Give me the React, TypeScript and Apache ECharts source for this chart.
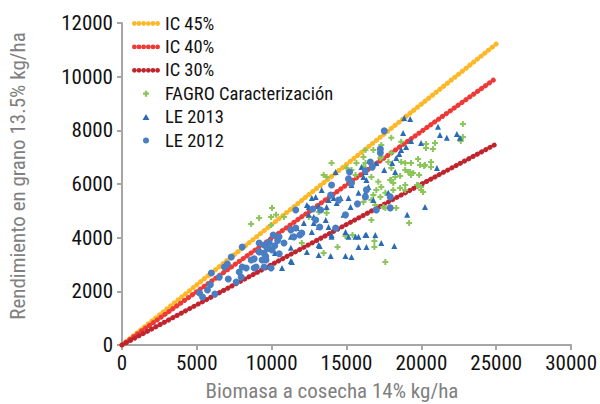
import React, { useEffect, useRef } from "react";
import * as echarts from "echarts";

const xTicks = [0, 5000, 10000, 15000, 20000, 25000, 30000];
const yTicks = [0, 2000, 4000, 6000, 8000, 10000, 12000];

const lineX = [0, 25000];
const ic45Y = [0, 11220];
const ic40Y = [0, 9950];
const ic30Y = [0, 7490];

const le2012: number[][] = [
  [17520, 7980], [17260, 7300], [17260, 7160], [16590, 6820], [16720, 6630], [16260, 6490],
  [15200, 6450], [15130, 6190], [15330, 6040], [16330, 5780], [16260, 5520], [15730, 5260],
  [16990, 5030], [17920, 5520], [17920, 5110], [14000, 5960], [13940, 5590], [14470, 5400],
  [12740, 5070], [13270, 5030], [12940, 4660], [13210, 4400], [11610, 5030], [11280, 4290],
  [11880, 4100], [10820, 3800], [10490, 4030], [9820, 3800], [9690, 3620], [9490, 3430],
  [9160, 3470], [9360, 3170], [8830, 3210], [8960, 2910], [9490, 2910], [9960, 2870],
  [14270, 4360], [14930, 4850], [7300, 3280], [7040, 3020], [6840, 2910], [5970, 2680],
  [6500, 2530], [7100, 2460], [7630, 2350], [7830, 2720], [8030, 2910], [8630, 3170],
  [8830, 2870], [8300, 2870], [9620, 3170], [9490, 3730], [9160, 3800], [9820, 3840],
  [10020, 3540], [11610, 4360], [12010, 4170], [11480, 4030], [5710, 2050], [5180, 1940],
  [5380, 1790], [8030, 3650], [7960, 2530], [10200, 3700], [10400, 3900], [9800, 3600],
  [10100, 4100], [10500, 3400], [9600, 3300], [6200, 1900], [5900, 2250]
];

const le2013: number[][] = [
  [18850, 8460], [19250, 8420], [21110, 8130], [21240, 7830], [21700, 7720], [22370, 7860],
  [22570, 7720], [19980, 7530], [19310, 7600], [18980, 7380], [18780, 7900], [18650, 7270],
  [18520, 7120], [18320, 6970], [17520, 6520], [18250, 6450], [18050, 6780], [16990, 6780],
  [16000, 6630], [16260, 6450], [16130, 6260], [16330, 6150], [14270, 6450], [15330, 5960],
  [16460, 5890], [15800, 5670], [15130, 5480], [14600, 5480], [14340, 5290], [13800, 5400],
  [12940, 5520], [13340, 5780], [13670, 5140], [13140, 5180], [12480, 5140], [20240, 5140],
  [21040, 6600], [19050, 4850], [15130, 4030], [16260, 4100], [16920, 4100], [15800, 3650],
  [16330, 3650], [17320, 3800], [18190, 3690], [14930, 3320], [15330, 3280], [13140, 3350],
  [12350, 3470], [11280, 3620], [11350, 3090], [10690, 2870], [13140, 3730], [14000, 4100],
  [12680, 4210], [11680, 4360], [12810, 4770], [12480, 4850], [12680, 5480], [12350, 5220],
  [14140, 5480], [15270, 5140], [14800, 4850], [13610, 4660], [12810, 4550], [12150, 4550],
  [13140, 4400], [13800, 4400], [14340, 4360], [14930, 4210], [15600, 4030], [14000, 4030],
  [11280, 4030], [13940, 3320], [13210, 3690], [16330, 4100], [15800, 4030], [16260, 5670],
  [17790, 5670], [16790, 5400], [10220, 3430], [11280, 3130]
];

const fagro: number[][] = [
  [22770, 8240], [22770, 7750], [22630, 7600], [20910, 7530], [20310, 7490], [20310, 7340],
  [20770, 7300], [17990, 7720], [17320, 7450], [18650, 7570], [17790, 6820], [18920, 6780],
  [19310, 6780], [19780, 6930], [19910, 6710], [20240, 6710], [20640, 6820], [18920, 6520],
  [18250, 6260], [17990, 6150], [19250, 6450], [19310, 6340], [18920, 5960], [18580, 5850],
  [18920, 5780], [19980, 5890], [19980, 5780], [19710, 5960], [19180, 4550], [17590, 3090],
  [18320, 5110], [17590, 5670], [17320, 5890], [17120, 6080], [16990, 5780], [16790, 5590],
  [17260, 5520], [16660, 5400], [16920, 5220], [17460, 5140], [16130, 7010], [17320, 7010],
  [16260, 6780], [15660, 6780], [15330, 6520], [15600, 6340], [15000, 6600], [14000, 6780],
  [13470, 6340], [13670, 6260], [15400, 4100], [14930, 4060], [14400, 3650], [16860, 3650],
  [13470, 3430], [10020, 5110], [9160, 4730], [8630, 4510], [9960, 4770], [10290, 4850],
  [10820, 4770], [12480, 4770], [13140, 4960], [13670, 4920], [12010, 3800], [16260, 7270],
  [16790, 7270], [17990, 7160], [17260, 6970], [16590, 6820], [18650, 6820], [16130, 6630],
  [17990, 6600], [19120, 6450], [19450, 6410], [18580, 6300], [17920, 6150], [16660, 6260],
  [18120, 6040], [16130, 5330], [17590, 5110], [16660, 4660], [16860, 3880], [18120, 5780],
  [20180, 6670], [20640, 6630], [19850, 6340], [20110, 5700], [19780, 5960], [9960, 4470]
];

const FONT = "'Roboto Condensed', 'Liberation Sans Narrow', 'DejaVu Sans Condensed', 'Liberation Sans', sans-serif";
const PLUS = "path://M2,0H4V2H6V4H4V6H2V4H0V2H2Z";

// six small beads in a row, used as the legend icon of the dotted lines
const circ = (cx: number) => `M${cx - 2.3},2.5a2.3,2.3 0 1,0 4.6,0a2.3,2.3 0 1,0 -4.6,0Z`;
const BEADS = "path://" + [2.5, 7, 11.5, 16, 20.5, 25].map(circ).join(" ");
const LEG_TRI = "path://M13,0L16,5.2H10Z";
const LEG_PLUS = "path://M13,0H15V1.6H16.6V3.6H15V5.2H13V3.6H11.4V1.6H13Z";
const LEG_DOT = "path://M11.6,2.6a2.4,2.4 0 1,0 4.8,0a2.4,2.4 0 1,0 -4.8,0Z";

const toPairs = (xs: number[], ys: number[]) => xs.map((x, i) => [x, ys[i]]);

export default function App() {
  const ref = useRef<HTMLDivElement>(null);
  useEffect(() => {
    if (!ref.current) return;
    const chart = echarts.init(ref.current, null, { renderer: "svg" });
    const dotLine = (name: string, ys: number[], color: string) => ({
      name,
      type: "line",
      data: toPairs(lineX, ys),
      symbol: "none",
      itemStyle: { color },
      lineStyle: { color, width: 5, type: [0.1, 4.7], cap: "round" },
      z: 2,
    });
    chart.setOption({
      animation: false,
      backgroundColor: "#ffffff",
      grid: { left: 122, right: 26, top: 23, bottom: 59, containLabel: false },
      legend: {
        orient: "vertical",
        left: 127,
        top: 9,
        itemWidth: 28,
        itemHeight: 6,
        itemGap: 4.4,
        symbolKeepAspect: true,
        textStyle: { fontFamily: FONT, fontSize: 18.5, color: "#111" },
        data: [
          { name: "IC 45%", icon: BEADS },
          { name: "IC 40%", icon: BEADS },
          { name: "IC 30%", icon: BEADS },
          { name: "FAGRO Caracterización", icon: LEG_PLUS },
          { name: "LE 2013", icon: LEG_TRI },
          { name: "LE 2012", icon: LEG_DOT },
        ],
      },
      xAxis: {
        type: "value",
        min: xTicks[0],
        max: xTicks[xTicks.length - 1],
        interval: xTicks[1] - xTicks[0],
        axisLine: { show: true, lineStyle: { color: "#A6A6A6", width: 2 } },
        axisTick: { show: true, length: 5, lineStyle: { color: "#A6A6A6", width: 2 } },
        splitLine: { show: false },
        axisLabel: {
          fontFamily: FONT,
          fontSize: 21,
          color: "#111",
          margin: 7,
          formatter: (v: number) => String(v),
        },
      },
      yAxis: {
        type: "value",
        min: yTicks[0],
        max: yTicks[yTicks.length - 1],
        interval: yTicks[1] - yTicks[0],
        axisLine: { show: true, lineStyle: { color: "#A6A6A6", width: 2 } },
        axisTick: { show: true, length: 5, lineStyle: { color: "#A6A6A6", width: 2 } },
        splitLine: { show: false },
        axisLabel: {
          fontFamily: FONT,
          fontSize: 21,
          color: "#111",
          margin: 9,
          formatter: (v: number) => String(v),
        },
      },
      graphic: [
        {
          type: "text",
          x: 332,
          y: 391,
          style: {
            text: "Biomasa a cosecha 14% kg/ha",
            fontFamily: FONT,
            fontSize: 21,
            fill: "#808080",
            textAlign: "center",
            textVerticalAlign: "middle",
          },
        },
        {
          type: "text",
          x: 18,
          y: 176,
          rotation: Math.PI / 2,
          style: {
            text: "Rendimiento en grano 13.5% kg/ha",
            fontFamily: FONT,
            fontSize: 21,
            fill: "#808080",
            textAlign: "center",
            textVerticalAlign: "middle",
          },
        },
      ],
      series: [
        dotLine("IC 45%", ic45Y, "#FDB827"),
        dotLine("IC 40%", ic40Y, "#EE3A36"),
        dotLine("IC 30%", ic30Y, "#C0242C"),
        {
          name: "FAGRO Caracterización",
          type: "scatter",
          data: fagro,
          symbol: PLUS,
          symbolSize: 6,
          itemStyle: { color: "#8CC55A", opacity: 1 },
          z: 3,
        },
        {
          name: "LE 2013",
          type: "scatter",
          data: le2013,
          symbol: "triangle",
          symbolSize: 6,
          itemStyle: { color: "#2A6BB5", opacity: 1 },
          z: 3,
        },
        {
          name: "LE 2012",
          type: "scatter",
          data: le2012,
          symbol: "circle",
          symbolSize: 7,
          itemStyle: { color: "#4A7EC3", opacity: 1 },
          z: 3,
        },
      ],
    });
    return () => chart.dispose();
  }, []);
  return (
    <div
      ref={ref}
      style={{ position: "fixed", left: 0, top: 0, width: 600, height: 404, background: "#fff" }}
    />
  );
}
